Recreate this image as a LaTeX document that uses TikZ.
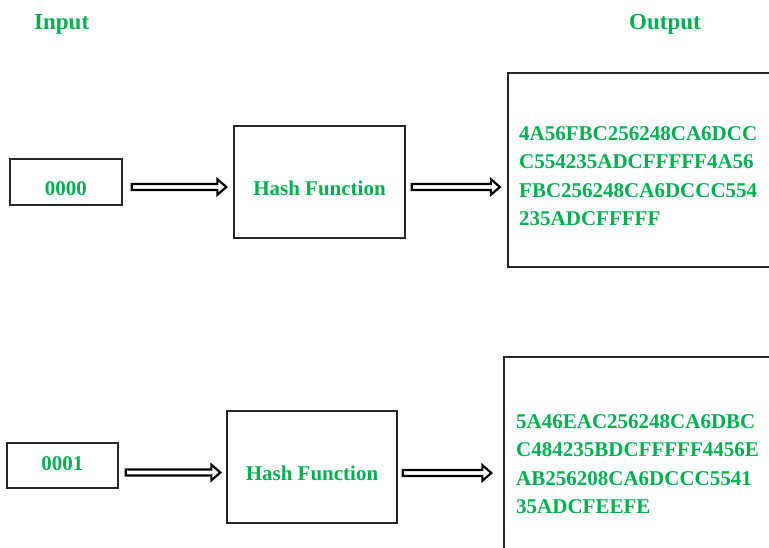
\documentclass[tikz,border=0pt]{standalone}
\usepackage{fontspec}
\setmainfont{Liberation Serif}
\usetikzlibrary{calc}
\definecolor{hgreen}{RGB}{0,176,80}
\tikzset{
  box/.style={draw=black!85, line width=1.3pt, inner sep=0pt, text=hgreen,
    font=\fontsize{21}{25}\selectfont\bfseries},
  hex/.style={inner sep=0pt, align=left, anchor=north west, text=hgreen,
    font=\fontsize{21}{28.5}\selectfont\bfseries},
  head/.style={inner sep=0pt, anchor=base west, text=hgreen,
    font=\fontsize{23}{26}\selectfont\bfseries},
  blockarrow/.style={draw=black, line width=2.2pt, line join=miter, fill=white,
    to path={let \p1=(\tikztostart), \p2=(\tikztotarget) in
      (\x1,\y1+3pt) -- (\x2-9pt,\y1+3pt) -- (\x2-9pt,\y1+7.8pt) -- (\x2,\y1)
      -- (\x2-9pt,\y1-7.8pt) -- (\x2-9pt,\y1-3pt) -- (\x1,\y1-3pt) -- cycle}}
}
\begin{document}
\begin{tikzpicture}[x=1pt,y=-1pt]
\useasboundingbox (0,0) rectangle (769,547);
\clip (0,0) rectangle (769,547);
% headers
\node[head] (hin) at (34,29) {Input};
\node[head] (hout) at (629,29) {Output};
% top row
\node[box, minimum width=112pt, minimum height=46pt, text height=26pt, text depth=0pt] (in1) at (66,182) {0000};
\node[box, minimum width=171pt, minimum height=112pt, text height=26pt, text depth=0pt] (h1) at (319.5,182) {Hash Function};
\node[box, minimum width=292pt, minimum height=194pt] (out1) at (654,170) {};
\node[hex] (t1) at (519,126) {4A56FBC256248CA6DCC\\C554235ADCFFFFF4A56\\FBC256248CA6DCCC554\\235ADCFFFFF};
% bottom row
\node[box, minimum width=111pt, minimum height=45pt, text height=15pt, text depth=6pt] (in2) at (62.5,465.5) {0001};
\node[box, minimum width=170pt, minimum height=112pt, text height=26pt, text depth=0pt] (h2) at (312,467) {Hash Function};
\node[box, minimum width=296pt, minimum height=243pt] (out2) at (652,478.5) {};
\node[hex] (t2) at (516,414) {5A46EAC256248CA6DBC\\C484235BDCFFFFF4456E\\AB256208CA6DCCC5541\\35ADCFEEFE};
% arrows
\draw[blockarrow] ([xshift=9pt,yshift=-5pt]in1.east) to ([xshift=-7pt,yshift=-5pt]h1.west);
\draw[blockarrow] ([xshift=6pt,yshift=-5pt]h1.east) to ([xshift=-7.5pt]out1.west |- h1.east);
\draw[blockarrow] ([xshift=7pt,yshift=-7pt]in2.east) to ([xshift=-6pt,yshift=-5pt]h2.west);
\draw[blockarrow] ([xshift=5pt,yshift=-6pt]h2.east) to ([xshift=-12pt]out2.west |- h2.east);
\end{tikzpicture}
\end{document}
